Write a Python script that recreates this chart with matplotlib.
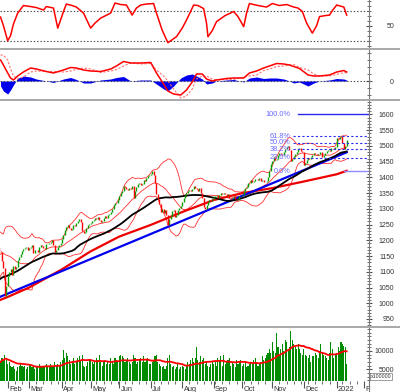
import numpy as np
import pandas as pd
import matplotlib
matplotlib.use("Agg")
import matplotlib.pyplot as plt
from matplotlib.lines import Line2D
from matplotlib.ticker import MultipleLocator, FixedLocator, NullFormatter
from matplotlib.transforms import blended_transform_factory

plt.rcParams['font.family'] = ['Liberation Sans', 'DejaVu Sans']

# ── Data: VN-Index daily closes (points) ───────────────────
# warm-up closes before the visible window (Nov 2020 - Jan 22 2021)
pre_close = [970, 975, 980, 985, 988, 985, 990, 995, 998, 1003, 1005, 1000, 1003,
             1010, 1015, 1012, 1020, 1022, 1030, 1025, 1035, 1040, 1045, 1050, 1055,
             1060, 1065, 1062, 1068, 1075, 1080, 1085, 1090, 1095, 1100, 1103,
             1120, 1135, 1150, 1165, 1184, 1190, 1186, 1192, 1180, 1194, 1176, 1184,
             1178, 1175, 1166]

jan21 = [1163, 1133, 1113, 1023, 1056]
feb21 = [1087, 1099, 1110, 1090, 1117, 1110, 1114, 1136, 1146, 1157, 1166, 1172, 1175, 1180, 1168]
mar21 = [1175, 1180, 1184, 1160, 1168, 1168, 1162, 1178, 1185, 1182, 1175, 1174, 1187, 1189,
         1192, 1196, 1200, 1184, 1163, 1170, 1180, 1186, 1191]
apr21 = [1205, 1218, 1232, 1242, 1248, 1240, 1232, 1236, 1250, 1245, 1255, 1262, 1268, 1258,
         1230, 1222, 1228, 1240, 1248, 1252]
may21 = [1255, 1262, 1265, 1270, 1268, 1275, 1264, 1258, 1262, 1272, 1278, 1270, 1282, 1285,
         1290, 1300, 1312, 1320, 1318, 1328]
jun21 = [1340, 1350, 1356, 1372, 1370, 1362, 1360, 1367, 1362, 1374, 1335, 1358, 1368, 1378,
         1382, 1376, 1380, 1392, 1388, 1397, 1403, 1408]
jul21 = [1412, 1420, 1408, 1382, 1346, 1330, 1316, 1290, 1300, 1288, 1296, 1282, 1250, 1268,
         1276, 1292, 1296, 1275, 1282, 1298, 1302, 1310]
aug21 = [1322, 1335, 1345, 1350, 1357, 1360, 1358, 1364, 1372, 1366, 1362, 1358, 1365, 1350,
         1335, 1305, 1300, 1312, 1322, 1328, 1325, 1331]
sep21 = [1338, 1342, 1345, 1336, 1343, 1350, 1346, 1352, 1348, 1342, 1347, 1336, 1331, 1335,
         1340, 1330, 1328, 1332, 1340, 1342]
oct21 = [1343, 1357, 1365, 1370, 1381, 1383, 1393, 1385, 1390, 1395, 1396, 1392, 1397, 1390,
         1393, 1384, 1387, 1389, 1400, 1420, 1444]
nov21 = [1452, 1465, 1455, 1460, 1470, 1478, 1475, 1470, 1482, 1490, 1496, 1500, 1488, 1452,
         1460, 1468, 1475, 1482, 1490, 1494, 1484, 1482]
dec21 = [1440, 1446, 1455, 1462, 1458, 1466, 1472, 1478, 1476, 1470, 1475, 1480, 1482, 1466,
         1470, 1478, 1484, 1488, 1485, 1492, 1495, 1490, 1498]
jan22 = [1525, 1522, 1528, 1531, 1510, 1490, 1500, 1518]

# daily volume (x100000 shares)
vol_jan21 = [7000, 8000, 7500, 9000, 8000]
vol_feb21 = [6500, 7000, 6000, 5500, 6000, 5000, 4500, 5500, 6000, 6500, 6000, 5500, 6000, 5000, 5500]
vol_mar21 = [6500, 6000, 5500, 6000, 5000, 6000, 5500, 6500, 6000, 5500, 5500, 6000, 6500, 5500,
             6000, 6500, 6000, 5500, 7000, 6000, 6500, 6000, 7000]
vol_apr21 = [7500, 10200, 8000, 9500, 8500, 7500, 6500, 7000, 8000, 6500, 7000, 8000, 8500, 7500,
             9000, 6000, 5500, 6000, 7000, 7500]
vol_may21 = [7500, 7000, 6500, 7000, 8000, 7500, 9000, 7000, 6000, 7000, 7500, 6500, 7000, 6500,
             8000, 7000, 6500, 8000, 7500, 7000]
vol_jun21 = [8500, 9000, 8500, 8000, 7000, 7500, 8000, 7000, 6500, 7000, 9000, 8000, 6500, 7000,
             7500, 8000, 7000, 8500, 7000, 7500, 8000, 6500]
vol_jul21 = [6500, 7000, 7500, 8500, 9000, 7000, 6500, 6000, 5500, 6000, 5000, 6000, 8000, 9000,
             6500, 5500, 6000, 5000, 5500, 6500, 5000, 5500]
vol_aug21 = [6000, 5500, 5000, 6000, 7000, 6500, 7500, 8000, 7000, 8000, 11000, 7500, 7000, 8500,
             7500, 8000, 6500, 7000, 6000, 5500, 6500, 7000]
vol_sep21 = [6500, 7000, 6000, 8000, 7500, 8500, 6000, 9000, 6500, 7000, 7500, 8000, 6000, 7000,
             6500, 5500, 7500, 6500, 7000, 7500]
vol_oct21 = [6000, 6500, 7000, 5500, 6000, 6500, 7000, 6500, 7500, 8000, 7000, 6000, 6500, 7000,
             8500, 7500, 8000, 9000, 9500, 10500, 9500]
vol_nov21 = [12500, 10000, 9500, 15000, 11000, 9000, 10500, 12000, 10000, 13000, 12500, 10500,
             11000, 15500, 13000, 12000, 11000, 10500, 12000, 10500, 9500, 9000]
vol_dec21 = [10500, 9000, 8500, 8000, 9000, 7000, 8500, 8500, 9500, 9000, 8000, 10000, 12000,
             9500, 9000, 8500, 8000, 7500, 9500, 12500, 10500, 8000, 9000]
vol_jan22 = [9500, 11000, 10000, 12500, 12000, 11500, 11000, 6500]

# slow stochastic (trading-day number, value)
stoch_day = [0, 2, 5, 7, 9, 12, 16, 21, 25, 30, 32, 37, 40, 44, 46, 50, 53, 58, 63, 66,
             70, 77, 80, 84, 88, 92, 95, 98, 102, 107, 109, 113, 117, 120, 123, 127, 130,
             135, 138, 142, 144, 145, 148, 151, 157, 163, 166, 170, 172, 174, 180, 186,
             190, 195, 200, 205, 208, 211, 214, 218, 221, 223, 227, 230, 232, 235, 240, 242]
stoch_val = [67, 50, 20, 30, 53, 75, 90, 88, 86, 81, 88, 85, 45, 78, 93, 90, 87, 75, 45, 55,
             65, 75, 95, 92, 91, 71, 85, 91, 93, 94, 75, 41, 16, 22, 28, 45, 61,
             91, 90, 84, 55, 28, 40, 58, 70, 78, 68, 48, 75, 94, 90, 87,
             94, 90, 92, 87, 85, 78, 55, 35, 50, 68, 70, 71, 80, 91, 87, 71]

# MACD line and histogram
macd_day = [0, 2, 5, 7, 9, 12, 16, 21, 25, 32, 37, 44, 49, 53, 58, 63, 70, 77, 81, 86,
            91, 98, 105, 109, 114, 117, 121, 126, 130, 134, 137, 141, 144, 148, 151, 158,
            163, 170, 174, 179, 184, 188, 193, 198, 202, 205, 209, 215, 219, 223, 230,
            235, 240, 242]
macd_val = [21, 16, 8, 3, 1, 5, 9, 13, 12, 9.5, 8, 11, 13.5, 13, 11, 10, 9.5, 12, 15, 19.5,
            18, 18, 18.5, 8, -3, -10, -13, -14, -9, -1, 7, 7, 2, 0, 1, 2.5,
            3, 3, 8, 10, 13, 15, 17.5, 17, 16, 14.5, 12.5, 6, 5, 5, 6,
            9, 10.5, 9]
hist_val = [-5, -10, -13, -9, -4, 3, 5, 4, 2, 0, -1.5, 2, 3.5, 1.5, -2, -2, 1, 2, 3.5, 4.5,
            0, 1, 1, -3, -8, -10, -5, 3, 6, 7, 5, 2, -3, -2, 0, 1,
            1.5, -1, 3, 4, 2.5, 3, 3, 2, 0, -2, -1, -5, -2, 0, 1,
            2.5, 2, 1]

# long moving average (thick red)
ma_long_dates = ['2021-01-25', '2021-02-01', '2021-03-01', '2021-04-01', '2021-05-04',
                 '2021-06-01', '2021-07-01', '2021-08-02', '2021-09-01', '2021-10-01',
                 '2021-11-01', '2021-12-01', '2022-01-04', '2022-01-13']
ma_long_vals = [1011, 1020, 1050, 1108, 1165, 1212, 1249, 1290, 1328, 1350, 1366, 1387, 1410, 1421]

# trend line and Fibonacci retracement
trend_dates = ['2021-01-25', '2022-01-13']
trend_vals = [1021, 1480]
fib_low, fib_high = 1420, 1600
fib_levels = [0.0, 23.6, 38.2, 50.0, 61.8, 100.0]

holidays = ['2021-02-10', '2021-02-11', '2021-02-12', '2021-02-15', '2021-02-16',
            '2021-04-21', '2021-04-30', '2021-05-03', '2021-09-02', '2021-09-03',
            '2022-01-03', '2022-01-31', '2022-02-01', '2022-02-02', '2022-02-03', '2022-02-04']
month_names = ['Feb', 'Mar', 'Apr', 'May', 'Jun', 'Jul', 'Aug', 'Sep', 'Oct', 'Nov', 'Dec', '2022', 'Feb']

# ── Build series ───────────────────────────────────────────
close_vis = (jan21 + feb21 + mar21 + apr21 + may21 + jun21 + jul21 + aug21 + sep21 +
             oct21 + nov21 + dec21 + jan22)
volume = np.array(vol_jan21 + vol_feb21 + vol_mar21 + vol_apr21 + vol_may21 + vol_jun21 +
                  vol_jul21 + vol_aug21 + vol_sep21 + vol_oct21 + vol_nov21 + vol_dec21 + vol_jan22)
n_pre = len(pre_close)
close = pd.Series(pre_close + close_vis, dtype=float)
x_all = np.arange(len(close)) - n_pre
nvis = len(close_vis)

days = pd.bdate_range('2021-01-25', '2022-02-28')
days = days[~days.isin(pd.to_datetime(holidays))]
day_idx = {d: i for i, d in enumerate(days)}

opn = close.shift(1).fillna(close)
bb_mid = close.rolling(20).mean()
bb_sd = close.rolling(20).std(ddof=0)
ma50 = close.rolling(50, min_periods=1).mean()
vol_ma = pd.Series(volume, dtype=float).rolling(20, min_periods=1).mean()
signal_val = np.array(macd_val) - np.array(hist_val)

# ── Figure layout (pixel based) ────────────────────────────
W, H = 400, 392
fig = plt.figure(figsize=(W / 100, H / 100), dpi=100)


def rect(x0, y0, x1, y1):
    return [x0 / W, 1 - y1 / H, (x1 - x0) / W, (y1 - y0) / H]


ax_st = fig.add_axes(rect(0, 0, 369, 48))
ax_md = fig.add_axes(rect(0, 49.5, 369, 99))
ax_pr = fig.add_axes(rect(0, 100.5, 369, 326))
ax_vo = fig.add_axes(rect(0, 327.5, 369, 381))

xlim = (-0.38, 257.6)
lab_col = '#333333'
for ax in (ax_st, ax_md, ax_pr, ax_vo):
    ax.set_xlim(*xlim)
    for s in ('top', 'left', 'bottom'):
        ax.spines[s].set_visible(False)
    ax.spines['right'].set_color('#7a7a7a')
    ax.yaxis.tick_right()
    ax.tick_params(axis='y', which='major', direction='inout', length=5, width=0.8,
                   colors='#555555', labelcolor=lab_col, labelsize=5.0, pad=15.5)
    ax.tick_params(axis='y', which='minor', direction='inout', length=3, width=0.6, colors='#555555')
    ax.tick_params(axis='x', which='both', bottom=False, labelbottom=False)
    ax.set_facecolor('white')

dot = (0, (1.2, 1.8))

# 1. Stochastic
ax_st.set_ylim(5.5, 101)
ax_st.axhline(80, color='#444444', lw=0.8, ls=dot)
ax_st.axhline(20, color='#444444', lw=0.8, ls=dot)
ax_st.plot(stoch_day, stoch_val, color='#ff0000', lw=1.1)
ax_st.yaxis.set_major_locator(FixedLocator([50]))
ax_st.yaxis.set_minor_locator(MultipleLocator(10))

# 2. MACD
ax_md.set_ylim(-18, 31.5)
ax_md.fill_between(macd_day, hist_val, 0, color='#0000ee', lw=0)
ax_md.axhline(0, color='#444444', lw=0.8, ls=dot)
ax_md.plot(macd_day, signal_val, color='#ff7070', lw=0.8, ls=(0, (2, 1.5)))
ax_md.plot(macd_day, macd_val, color='#ff0000', lw=1.1)
ax_md.yaxis.set_major_locator(FixedLocator([0]))
ax_md.yaxis.set_minor_locator(MultipleLocator(7))

# 3. Price
ax_pr.set_ylim(927.7, 1644.5)
up = close >= opn
ax_pr.plot(x_all, bb_mid + 2 * bb_sd, color='#ff3030', lw=0.6)
ax_pr.plot(x_all, bb_mid - 2 * bb_sd, color='#ff3030', lw=0.6)
ax_pr.plot(x_all, bb_mid, color='#ff3030', lw=0.6)
ml_x = [day_idx[pd.Timestamp(d)] for d in ma_long_dates]
ax_pr.plot(ml_x, ma_long_vals, color='#ee0000', lw=1.6)
tr_x = [day_idx[pd.Timestamp(d)] for d in trend_dates]
ax_pr.plot(tr_x, trend_vals, color='#0000ee', lw=1.6)
ax_pr.plot(x_all, ma50, color='#000000', lw=1.3)
lo = np.minimum(opn, close)
hi = np.maximum(opn, close)
ax_pr.vlines(x_all[up], lo[up], hi[up], colors='#00a000', lw=1.0)
ax_pr.vlines(x_all[~up], lo[~up], hi[~up], colors='#ff0000', lw=1.0)

fib_col = '#6a6aff'
for lv in fib_levels:
    y = fib_low + (fib_high - fib_low) * lv / 100
    if lv == 100.0:
        ax_pr.plot([208, xlim[1]], [y, y], color='#2a2aee', lw=1.0)
    elif lv == 0.0:
        ax_pr.plot([240, xlim[1]], [y, y], color='#8c8cff', lw=1.0)
    else:
        ax_pr.plot([204.5, xlim[1]], [y, y], color='#2a2aee', lw=0.8, ls=(0, (2, 2)))
    ax_pr.text(203, y, f"{lv:.1f}%", color=fib_col, fontsize=5.3, ha='right', va='center')

ax_pr.yaxis.set_major_locator(MultipleLocator(50))
ax_pr.yaxis.set_minor_locator(MultipleLocator(10))

# 4. Volume
ax_vo.set_ylim(1803, 16420)
ax_vo.bar(np.arange(nvis), volume, width=0.75, color='#008c00', linewidth=0)
ax_vo.plot(np.arange(nvis), vol_ma, color='#ff0000', lw=1.3)
ax_vo.yaxis.set_major_locator(FixedLocator([5000, 10000]))
ax_vo.yaxis.set_minor_locator(MultipleLocator(1000))

# right-aligned value labels
for ax in (ax_st, ax_md, ax_pr, ax_vo):
    plt.setp(ax.get_yticklabels(), ha='right')

# x axis: month ticks + weekly minor ticks
month_pos = [i for i in range(1, len(days)) if days[i].month != days[i - 1].month]
week_pos = [i for i in range(1, len(days)) if days[i].weekday() < days[i - 1].weekday()]
ax_vo.tick_params(axis='x', which='major', bottom=True, direction='out', length=5,
                  width=0.8, colors='#555555')
ax_vo.tick_params(axis='x', which='minor', bottom=True, direction='out', length=2.5,
                  width=0.6, colors='#555555')
ax_vo.xaxis.set_major_locator(FixedLocator(month_pos))
ax_vo.xaxis.set_minor_locator(FixedLocator(week_pos))
ax_vo.xaxis.set_major_formatter(NullFormatter())
trans = blended_transform_factory(ax_vo.transData, ax_vo.transAxes)
for pos, name in zip(month_pos, month_names):
    t = ax_vo.text(pos + 1.0, -0.15, name, transform=trans, fontsize=5.3, color=lab_col,
                   ha='left', va='center', clip_on=False)
    if pos + 8 > xlim[1]:
        t.set_text(name[0])

fig.text(370.5 / W, 1 - 376.5 / H, 'x100000', fontsize=3.8, color=lab_col, va='center',
         bbox=dict(fc='white', ec='#777777', lw=0.5, boxstyle='square,pad=0.15'))

# panel separators
for yy in (48.7, 99.7, 326.7):
    fig.add_artist(Line2D([0, 1], [1 - yy / H] * 2, transform=fig.transFigure,
                          color='#a8a8a8', lw=1.4))
fig.add_artist(Line2D([369 / W] * 2, [0, 1 - 381 / H], transform=fig.transFigure,
                      color='#7a7a7a', lw=0.8))

fig.savefig('out.png', dpi=100)
